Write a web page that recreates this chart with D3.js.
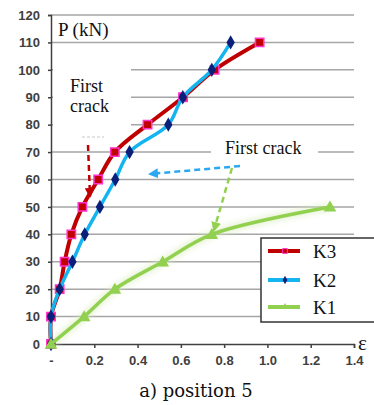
<!DOCTYPE html>
<html>
<head>
<meta charset="utf-8">
<script src="https://cdn.jsdelivr.net/npm/d3@7"></script>
<style>
  body { margin: 0; background: #fff; }
  svg { display: block; }
  .serif { font-family: "Liberation Serif", "Times New Roman", serif; }
  .dserif { font-family: "DejaVu Serif", serif; }
</style>
</head>
<body>
<div id="chart"></div>
<script>
// Load P (kN) vs strain for specimens K1..K3, position 5

const loads = [0, 10, 20, 30, 40, 50, 60, 70, 80, 90, 100, 110];
const strainK3 = [0, 0, 0.04, 0.063, 0.094, 0.145, 0.218, 0.295, 0.446, 0.61, 0.756, 0.964];
const strainK2 = [0, 0, 0.04, 0.099, 0.156, 0.226, 0.297, 0.363, 0.542, 0.609, 0.743, 0.83];
const loadsK1 = [0, 10, 20, 30, 40, 50];
const strainK1 = [0, 0.153, 0.295, 0.516, 0.743, 1.289];
const xTicks = [0, 0.2, 0.4, 0.6, 0.8, 1.0, 1.2, 1.4];
const yTicks = [0, 10, 20, 30, 40, 50, 60, 70, 80, 90, 100, 110, 120];
const seriesNames = ["K3", "K2", "K1"];

const w = 374, h = 405;
const svg = d3.select("#chart").append("svg")
  .attr("width", w)
  .attr("height", h);

const x = d3.scaleLinear().domain([0, 1.4]).range([51, 354]);
const y = d3.scaleLinear().domain([0, 120]).range([344, 15]);

const red = "#c00000", blue = "#14b4f0", green = "#92d050";

// defs: arrow heads + glow
const defs = svg.append("defs");
[["arrRed", red], ["arrBlue", "#2aa8f0"], ["arrGreen", green]].forEach(([id, c]) => {
  defs.append("marker")
    .attr("id", id)
    .attr("viewBox", "0 0 10 10")
    .attr("refX", 8).attr("refY", 5)
    .attr("markerWidth", 4).attr("markerHeight", 4)
    .attr("orient", "auto")
    .append("path")
    .attr("d", "M0,0 L10,5 L0,10 z")
    .attr("fill", c);
});
defs.append("filter").attr("id", "glow")
  .attr("x", "-20%").attr("y", "-20%").attr("width", "140%").attr("height", "140%")
  .append("feGaussianBlur").attr("stdDeviation", 2.5);

// gridlines
svg.append("g").selectAll("line")
  .data(yTicks.filter(d => d > 0))
  .enter().append("line")
  .attr("x1", x(0)).attr("x2", x(1.4))
  .attr("y1", d => y(d)).attr("y2", d => y(d))
  .attr("stroke", "#a6a6a6")
  .attr("stroke-width", 1.5);

// white boxes behind annotation texts
svg.append("rect").attr("x", 53).attr("y", 58).attr("width", 78).attr("height", 72).attr("fill", "#fff");
svg.append("rect").attr("x", 211).attr("y", 138).attr("width", 107).attr("height", 22).attr("fill", "#fff");
svg.append("line").attr("x1", 82).attr("x2", 104).attr("y1", 137).attr("y2", 137)
  .attr("stroke", "#c8c8c8").attr("stroke-width", 1).attr("stroke-dasharray", "3,2");

// axes
const yAxis = svg.append("g")
  .attr("transform", `translate(${x(0)},0)`)
  .call(d3.axisLeft(y).tickValues(yTicks).tickSize(3).tickPadding(8));
const xAxis = svg.append("g")
  .attr("transform", `translate(0,${y(0)})`)
  .call(d3.axisBottom(x).tickValues(xTicks).tickSize(4).tickPadding(8)
    .tickFormat(d => d === 0 ? "-" : d.toFixed(1)));
[yAxis, xAxis].forEach(g => {
  g.select(".domain").attr("stroke", "#404040").attr("stroke-width", 1.5);
  g.selectAll(".tick line").attr("stroke", "#404040").attr("stroke-width", 1.5);
  g.selectAll(".tick text")
    .attr("fill", "#404040")
    .attr("font-family", "Liberation Sans, Arial, sans-serif")
    .attr("font-size", 13)
    .attr("font-weight", "bold");
});

// series
const line = d3.line()
  .x(d => x(d[0]))
  .y(d => y(d[1]))
  .curve(d3.curveCatmullRom.alpha(0.5));

const k3 = strainK3.map((s, i) => [s, loads[i]]);
const k2 = strainK2.map((s, i) => [s, loads[i]]);
const k1 = strainK1.map((s, i) => [s, loadsK1[i]]);

// K1 glow
svg.append("path").datum(k1)
  .attr("d", line)
  .attr("fill", "none")
  .attr("stroke", "#d8ecbc")
  .attr("stroke-width", 9)
  .attr("opacity", 0.5)
  .attr("filter", "url(#glow)");

const sq = d3.symbol().type(d3.symbolSquare);
const dia = d3.symbol().type(d3.symbolDiamond);
const tri = d3.symbol().type(d3.symbolTriangle);

function drawSeries(data, color, width, markerFn) {
  svg.append("path").datum(data)
    .attr("d", line)
    .attr("fill", "none")
    .attr("stroke", color)
    .attr("stroke-width", width)
    .attr("stroke-linejoin", "round");
  const g = svg.append("g");
  data.forEach(d => markerFn(g.append("path"), x(d[0]), y(d[1])));
}

drawSeries(k3, red, 4, (p, px, py) => p
  .attr("d", sq.size(70)())
  .attr("transform", `translate(${px},${py})`)
  .attr("fill", red).attr("stroke", "#ff33cc").attr("stroke-width", 1.5));

drawSeries(k2, blue, 3.5, (p, px, py) => p
  .attr("d", dia.size(60)())
  .attr("transform", `translate(${px},${py})`)
  .attr("fill", "#0a1f7a"));

drawSeries(k1, green, 3.5, (p, px, py) => p
  .attr("d", tri.size(70)())
  .attr("transform", `translate(${px},${py + 1})`)
  .attr("fill", green));

// annotations
const note = (tx, ty, size, s) => svg.append("text")
  .attr("class", "serif")
  .attr("x", tx).attr("y", ty)
  .attr("font-size", size)
  .attr("fill", "#111")
  .text(s);
note(58, 36, 19, "P (kN)");
note(70, 92, 18, "First");
note(70, 112, 18, "crack");
note(225, 154, 18, "First crack");

const dashArrow = (x1, y1, x2, y2, c, id) => svg.append("line")
  .attr("x1", x1).attr("y1", y1).attr("x2", x2).attr("y2", y2)
  .attr("stroke", c).attr("stroke-width", 2.5)
  .attr("stroke-dasharray", "6,4")
  .attr("marker-end", `url(#${id})`);
dashArrow(88, 145, 90, 196, red, "arrRed");
dashArrow(240, 166, 150, 174, "#2aa8f0", "arrBlue");
dashArrow(232, 168, 214, 230, green, "arrGreen");

// x-axis symbol
note(358, 350, 21, "ε");

// legend
const leg = svg.append("g");
leg.append("rect")
  .attr("x", 261).attr("y", 238).attr("width", 130).attr("height", 84)
  .attr("fill", "#fff").attr("stroke", "#333").attr("stroke-width", 1.5);
const legColors = [red, blue, green];
const legY = [251, 280, 307];
seriesNames.forEach((name, i) => {
  leg.append("line")
    .attr("x1", 268).attr("x2", 300).attr("y1", legY[i]).attr("y2", legY[i])
    .attr("stroke", legColors[i]).attr("stroke-width", 4);
  const m = leg.append("path").attr("transform", `translate(285,${legY[i]})`);
  if (i === 0) m.attr("d", sq.size(22)()).attr("fill", red).attr("stroke", "#ff33cc").attr("stroke-width", 1);
  if (i === 1) m.attr("d", dia.size(20)()).attr("fill", "#0a1f7a");
  if (i === 2) m.attr("d", tri.size(20)()).attr("fill", green);
  leg.append("text")
    .attr("class", "serif")
    .attr("x", 313).attr("y", legY[i] + 7)
    .attr("font-size", 19).attr("fill", "#111")
    .text(name);
});

// caption
svg.append("text").attr("x", 196).attr("y", 397)
  .attr("class", "dserif")
  .attr("text-anchor", "middle")
  .attr("font-size", 18).attr("fill", "#111")
  .text("a) position 5");
</script>
</body>
</html>
